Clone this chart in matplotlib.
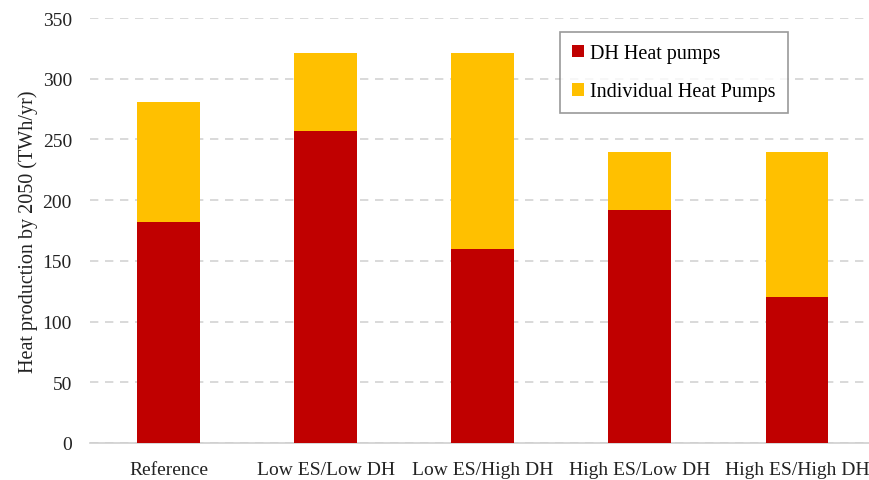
import matplotlib.pyplot as plt
import numpy as np

# scenario names and heat production (TWh/yr)
scenarios = ["Reference", "Low ES/Low DH", "Low ES/High DH", "High ES/Low DH", "High ES/High DH"]
dh_heat_pumps = [182, 257, 160, 192, 120]
individual_heat_pumps = [99, 64, 161, 48, 120]

plt.rcParams['font.family'] = ['Liberation Serif', 'DejaVu Serif']

fig = plt.figure(figsize=(8.7, 4.81), dpi=100)
ax = fig.add_axes([90 / 870, 37 / 481, 785.5 / 870, 425 / 481])

x = np.arange(len(scenarios))
ax.bar(x, dh_heat_pumps, width=0.4, color='#C00000', label='DH Heat pumps', zorder=3)
ax.bar(x, individual_heat_pumps, width=0.4, bottom=dh_heat_pumps, color='#FFC000',
       label='Individual Heat Pumps', zorder=3)

ax.set_xlim(-0.5, len(scenarios) - 0.5)
ax.set_ylim(0, 350)
ax.set_yticks(range(0, 351, 50))
ax.set_xticks(x)
ax.set_xticklabels(scenarios)
ax.tick_params(axis='both', length=0, labelsize=14, colors='#222222')
ax.tick_params(axis='x', pad=13)
ax.tick_params(axis='y', pad=13)

ax.grid(axis='y', color='#d3d3d3', linestyle=(0, (5, 4)), linewidth=1.2, zorder=0)
for side in ['top', 'right', 'left']:
    ax.spines[side].set_visible(False)
ax.spines['bottom'].set_color('#cfcfcf')
ax.spines['bottom'].set_linewidth(1.2)

ax.set_ylabel('Heat production by 2050 (TWh/yr)', fontsize=14.5, color='#222222', labelpad=3)

leg = ax.legend(loc='upper left', bbox_to_anchor=((560 - 90) / 785.5, (444 - 33) / 425),
                fontsize=14.5, frameon=True, fancybox=False, edgecolor='#808080',
                handlelength=0.6, handleheight=0.6, handletextpad=0.3,
                labelspacing=0.95, borderpad=0.6, borderaxespad=0)
leg.get_frame().set_linewidth(1.2)

fig.savefig('out.png', dpi=100)
